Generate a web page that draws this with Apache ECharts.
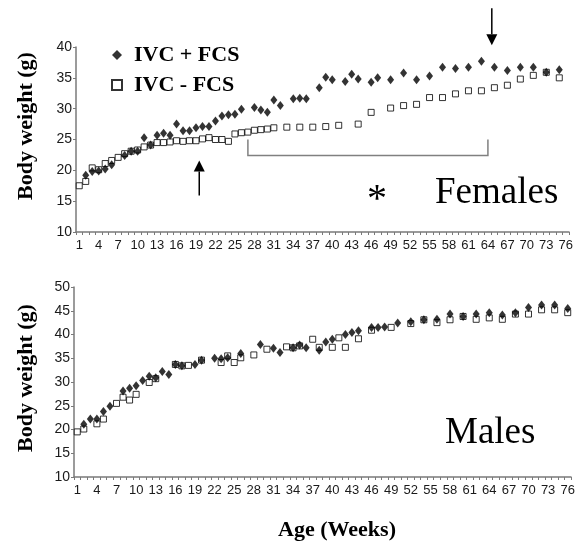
<!DOCTYPE html>
<html>
<head>
<meta charset="utf-8">
<script src="https://cdn.jsdelivr.net/npm/echarts@6/dist/echarts.min.js"></script>
<style>
html,body{margin:0;padding:0;background:#fff;}
#chart{width:583px;height:542px;}
</style>
</head>
<body>
<div id="chart"></div>
<script>
// ---- data ----
const weeks = ['1','2','3','4','5','6','7','8','9','10','11','12','13','14','15','16','17','18','19','20',
  '21','22','23','24','25','26','27','28','29','30','31','32','33','34','35','36','37','38','39','40',
  '41','42','43','44','45','46','47','48','49','50','51','52','53','54','55','56','57','58','59','60',
  '61','62','63','64','65','66','67','68','69','70','71','72','73','74','75','76'];

const seriesNames = ['IVC + FCS', 'IVC - FCS'];

// Females
const femalePlusFCS = [null,19.2,19.8,19.9,20.2,20.9,null,22.4,23.1,23.1,
  25.3,24.1,25.7,26.0,25.7,27.5,26.4,26.4,26.9,27.1,
  27.1,28.0,28.8,29.0,29.1,29.9,null,30.2,29.8,29.4,
  31.4,30.5,null,31.6,31.7,31.6,null,33.4,35.1,34.7,
  null,34.4,35.6,34.8,null,34.3,35.0,null,34.7,null,
  35.8,null,34.7,null,35.3,null,36.7,null,36.5,null,
  36.7,null,37.7,null,36.7,null,36.2,null,36.7,null,
  36.7,null,35.9,null,36.3,null];
const femaleMinusFCS = [17.5,18.2,20.4,20.1,21.1,21.6,22.1,22.7,23.1,23.3,
  23.8,24.1,24.5,24.5,24.6,24.8,24.7,24.8,24.8,25.1,
  25.3,25.0,25.0,24.7,25.9,26.1,26.2,26.5,26.6,26.7,
  26.9,null,27.0,null,27.0,null,27.0,null,27.1,null,
  27.3,null,null,27.5,null,29.4,null,null,30.1,null,
  30.5,null,30.7,null,31.8,null,31.8,null,32.4,null,
  32.9,null,32.9,null,33.4,null,33.8,null,34.8,null,
  35.4,null,35.9,null,35.0,null];

// Males
const malePlusFCS = [null,21.1,22.2,22.2,23.8,24.9,null,28.1,28.7,29.2,
  30.3,31.2,30.9,32.2,31.6,33.7,33.4,null,33.7,34.6,
  null,35.0,34.9,35.1,null,36.0,null,null,37.9,null,
  37.1,36.2,null,37.2,37.8,37.2,null,36.7,38.4,39.0,
  null,40.0,40.4,40.8,null,41.5,41.5,41.6,null,42.4,
  null,42.7,null,43.1,null,43.2,null,44.3,null,43.8,
  null,44.3,null,44.6,null,44.1,null,44.6,null,45.7,
  null,46.2,null,46.2,null,45.5];
const maleMinusFCS = [19.5,20.1,null,21.2,22.2,null,25.5,26.8,26.2,27.4,
  null,29.9,30.7,null,null,33.7,33.4,33.5,null,34.6,
  null,null,34.1,35.5,34.1,35.1,null,35.7,null,36.9,
  null,null,37.4,37.2,37.6,null,39.0,37.3,null,37.3,
  39.3,37.3,null,39.1,null,40.9,null,null,41.5,null,
  null,42.3,null,43.1,null,42.5,null,43.1,null,43.8,
  null,43.2,null,43.5,null,43.2,null,44.3,null,44.3,
  null,45.2,null,45.2,null,44.6];

// annotations (week, weight)
const bracketWeeks = [27, 64];
const bracketLevel = 22.4;
const bracketTop = 25.0;
const upArrow = {week: 19.5, tip: 21.6, tail: 15.9};
const downArrow = {week: 64.6, tip: 40.3, tail: 46.3};

// ---- chart ----
const chart = echarts.init(document.getElementById('chart'), null, {renderer: 'canvas'});
const AXIS_COLOR = '#7a7a7a';
const LABEL_COLOR = '#1a1a1a';
const SANS = '"Liberation Sans", Arial, sans-serif';
const SERIF = '"Liberation Serif", "Times New Roman", serif';

function xAxisCfg(gi) {
  return {
    type: 'category', gridIndex: gi, data: weeks, boundaryGap: true,
    axisLine: {lineStyle: {color: AXIS_COLOR, width: 1.5}},
    axisTick: {show: true, interval: 0, length: 3, lineStyle: {color: AXIS_COLOR}},
    axisLabel: {interval: 2, color: LABEL_COLOR, fontFamily: SANS, fontSize: 13, margin: 7},
    splitLine: {show: false}
  };
}
function yAxisCfg(gi, max) {
  return {
    type: 'value', gridIndex: gi, min: 10, max: max, interval: 5,
    axisLine: {show: true, lineStyle: {color: AXIS_COLOR, width: 1.5}},
    axisTick: {show: true, length: 3, lineStyle: {color: AXIS_COLOR}},
    axisLabel: {color: LABEL_COLOR, fontFamily: SANS, fontSize: 14, margin: 4},
    splitLine: {show: false}
  };
}
const squareStyle = {color: '#ffffff', borderColor: '#000000', borderWidth: 1};
const diamondStyle = {color: '#000000'};

const option = {
  animation: false,
  backgroundColor: '#ffffff',
  grid: [
    {left: 76, right: 14, top: 47, height: 185},
    {left: 74, right: 12, top: 287, height: 190}
  ],
  xAxis: [xAxisCfg(0), xAxisCfg(1)],
  yAxis: [yAxisCfg(0, 40), yAxisCfg(1, 50)],
  legend: {
    orient: 'vertical', left: 106, top: 39, itemGap: 8,
    itemWidth: 10, itemHeight: 10,
    data: [{name: seriesNames[0], icon: 'diamond'}, {name: seriesNames[1], icon: 'rect'}],
    textStyle: {fontFamily: SERIF, fontWeight: 'bold', fontSize: 22, color: '#000', lineHeight: 22, padding: [0, 0, 0, 7]}
  },
  series: [
    {type: 'scatter', name: seriesNames[1], xAxisIndex: 0, yAxisIndex: 0, data: femaleMinusFCS,
     symbol: 'rect', symbolSize: 6, itemStyle: squareStyle, z: 2},
    {type: 'scatter', name: seriesNames[0], xAxisIndex: 0, yAxisIndex: 0, data: femalePlusFCS,
     symbol: 'diamond', symbolSize: [7, 9], itemStyle: diamondStyle, z: 3},
    {type: 'scatter', name: seriesNames[1], xAxisIndex: 1, yAxisIndex: 1, data: maleMinusFCS,
     symbol: 'rect', symbolSize: 6, itemStyle: squareStyle, z: 2},
    {type: 'scatter', name: seriesNames[0], xAxisIndex: 1, yAxisIndex: 1, data: malePlusFCS,
     symbol: 'diamond', symbolSize: [7, 9], itemStyle: diamondStyle, z: 3}
  ]
};
chart.setOption(option);

// ---- annotations through the library's scales ----
function px(week, value, gi) {
  const i = week - 1;
  const lo = Math.floor(i), hi = Math.ceil(i);
  const a = chart.convertToPixel({gridIndex: gi}, [lo, value]);
  const b = chart.convertToPixel({gridIndex: gi}, [hi, value]);
  const t = i - lo;
  return [a[0] + (b[0] - a[0]) * t, a[1]];
}
function arrow(a) {
  const tip = px(a.week, a.tip, 0);
  const tail = px(a.week, a.tail, 0);
  const dir = tail[1] > tip[1] ? 1 : -1; // 1 -> arrow points up
  const headLen = 11, half = 5.5;
  const base = tip[1] + dir * headLen;
  return [
    {type: 'line', shape: {x1: tail[0], y1: tail[1], x2: tip[0], y2: base},
     style: {stroke: '#000', lineWidth: 1.5}},
    {type: 'polygon', shape: {points: [[tip[0] - half, base], [tip[0] + half, base], [tip[0], tip[1]]]},
     style: {fill: '#000'}}
  ];
}
const bl = px(bracketWeeks[0], bracketTop, 0);
const bl2 = px(bracketWeeks[0], bracketLevel, 0);
const br2 = px(bracketWeeks[1], bracketLevel, 0);
const br = px(bracketWeeks[1], bracketTop, 0);

const graphics = [
  {type: 'polyline', shape: {points: [bl, bl2, br2, br]}, style: {stroke: '#808080', lineWidth: 1.5, fill: null}},
  ...arrow(upArrow),
  ...arrow(downArrow),
  {type: 'text', x: 26, y: 126, rotation: Math.PI / 2,
   style: {text: 'Body weight (g)', font: 'bold 22px ' + SERIF, fill: '#000', align: 'center', verticalAlign: 'middle'}},
  {type: 'text', x: 26, y: 378, rotation: Math.PI / 2,
   style: {text: 'Body weight (g)', font: 'bold 22px ' + SERIF, fill: '#000', align: 'center', verticalAlign: 'middle'}},
  {type: 'text', x: 337, y: 530,
   style: {text: 'Age (Weeks)', font: 'bold 22px ' + SERIF, fill: '#000', align: 'center', verticalAlign: 'middle'}},
  {type: 'text', x: 435, y: 193,
   style: {text: 'Females', font: '37px ' + SERIF, fill: '#000', align: 'left', verticalAlign: 'middle'}},
  {type: 'text', x: 377, y: 200,
   style: {text: '*', font: '40px ' + SERIF, fill: '#000', align: 'center', verticalAlign: 'middle'}},
  {type: 'text', x: 445, y: 433,
   style: {text: 'Males', font: '37px ' + SERIF, fill: '#000', align: 'left', verticalAlign: 'middle'}}
];
chart.setOption({graphic: graphics});
</script>
</body>
</html>
